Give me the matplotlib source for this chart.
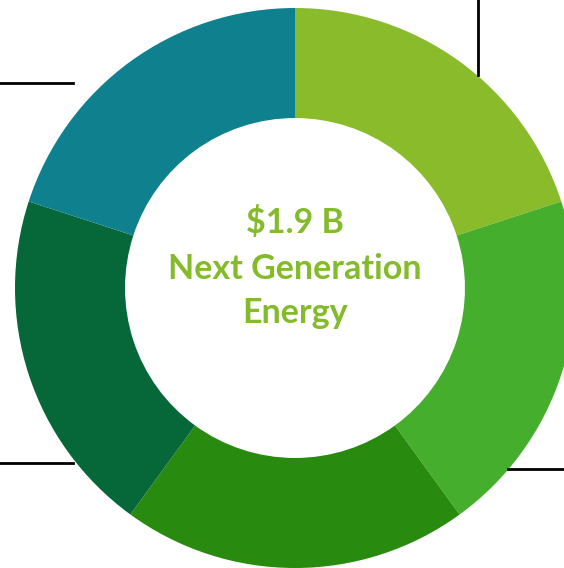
import matplotlib
matplotlib.use("Agg")
import matplotlib.pyplot as plt
from matplotlib.lines import Line2D

# five equal segments of the donut, clockwise from 12 o'clock
shares = [1, 1, 1, 1, 1]
colors = ["#8abb2a", "#45ae2d", "#288a0f", "#066839", "#0f818e"]
center_lines = ["$1.9 B", "Next Generation", "Energy"]

W, H = 564, 568
fig = plt.figure(figsize=(W / 100, H / 100), dpi=100)
ax = fig.add_axes([0, 0, 1, 1])

cx, cy, r = 295, H - 288, 280
ax.pie(shares, colors=colors, startangle=90, counterclock=False,
       center=(cx, cy), radius=r, frame=True,
       wedgeprops=dict(width=r * 0.393, edgecolor="none", antialiased=True))
ax.set_xlim(0, W)
ax.set_ylim(0, H)
ax.set_aspect("equal")
ax.axis("off")

# text in the hole, one line at a time (baselines in pixels from the top)
baselines = [233, 279, 323]
for txt, yb in zip(center_lines, baselines):
    ax.text(cx, H - yb, txt, ha="center", va="baseline",
            fontsize=24.5, fontweight="bold", family="Lato", color="#84bb2a")

# leader lines that run off the picture
lines = [
    ([478, 478], [0, 75]),
    ([0, 73], [83, 83]),
    ([0, 73], [463, 463]),
    ([508, 564], [469, 469]),
]
for xs, ys in lines:
    fig.add_artist(Line2D([x / W for x in xs], [1 - y / H for y in ys],
                          color="black", lw=2))

fig.savefig("out.png", dpi=100)
